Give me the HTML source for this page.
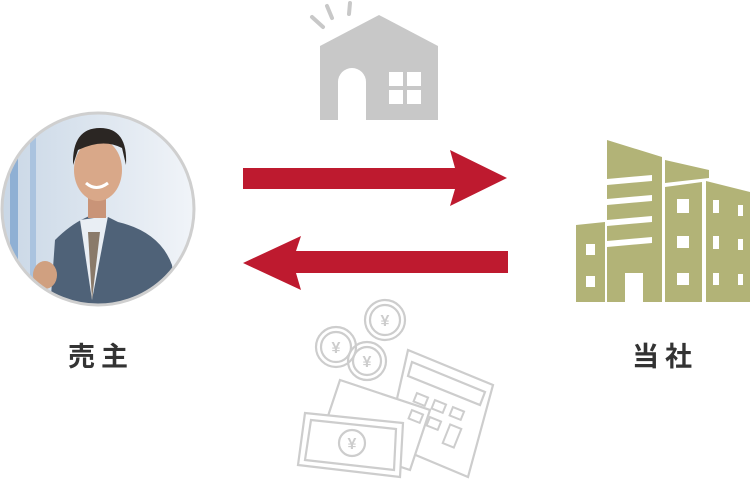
<!DOCTYPE html>
<html><head><meta charset="utf-8"><style>
body{margin:0;width:750px;height:481px;background:#fff;overflow:hidden;position:relative;font-family:"Liberation Sans","Noto Sans CJK JP",sans-serif}
.lbl{position:absolute;top:335px;font-size:27px;font-weight:bold;color:#333;letter-spacing:6px;width:130px;text-align:center;text-indent:6px}
</style></head><body>
<svg width="750" height="481" style="position:absolute;left:0;top:0">
<defs>
<clipPath id="c"><circle cx="98" cy="209" r="95"/></clipPath>
<linearGradient id="bg" x1="0" x2="1"><stop offset="0" stop-color="#c9d7e6"/><stop offset="1" stop-color="#f2f5f9"/></linearGradient>
</defs>
<g fill="#c8c8c8">
<polygon points="379,15 438,46 438,120 320,120 320,46"/>
<line x1="312" y1="17" x2="323" y2="27" stroke="#c8c8c8" stroke-width="4" stroke-linecap="round"/>
<line x1="327" y1="6" x2="332" y2="18" stroke="#c8c8c8" stroke-width="4" stroke-linecap="round"/>
<line x1="350" y1="3" x2="349" y2="14" stroke="#c8c8c8" stroke-width="4" stroke-linecap="round"/>
</g>
<path d="M338 120 V82 A14 14 0 0 1 366 82 V120Z" fill="#fff"/>
<g fill="#fff"><rect x="389" y="72" width="14" height="14"/><rect x="407" y="72" width="14" height="14"/><rect x="389" y="90" width="14" height="14"/><rect x="407" y="90" width="14" height="14"/></g>
<g fill="#be1a2f">
<polygon points="243,168 455,168 450,150 507,178 450,206 455,189 243,189"/>
<polygon points="508,251 296,251 301,236 243,263 301,290 296,273 508,273"/>
</g>
<g clip-path="url(#c)">
<rect x="0" y="110" width="200" height="200" fill="url(#bg)"/>
<rect x="10" y="110" width="8" height="200" fill="#8fb0d4"/>
<rect x="30" y="110" width="6" height="200" fill="#aac3df"/>
<path d="M50 310 L55 240 Q70 225 85 218 L98 212 L118 222 Q160 232 172 265 L178 310Z" fill="#4f6278"/>
<path d="M80 220 L92 300 L108 216Z" fill="#e9eef4"/>
<path d="M88 232 L92 300 L100 232Z" fill="#8a7a6a"/>
<rect x="88" y="190" width="18" height="28" fill="#c99478"/>
<ellipse cx="98" cy="170" rx="24" ry="31" fill="#d9a889"/>
<path d="M73 165 Q72 128 100 128 Q128 128 126 165 L122 148 Q103 138 78 150Z" fill="#2b2623"/>
<path d="M86 183 Q96 192 108 183" stroke="#fff" stroke-width="3" fill="none"/>
<ellipse cx="45" cy="275" rx="12" ry="14" fill="#d0a080"/>
</g>
<circle cx="98" cy="209" r="96" fill="none" stroke="#cfcfcf" stroke-width="3"/>
<g fill="#b2b377">
<polygon points="576,225 605,222 605,302 576,302"/>
<polygon points="607,140 662,157 662,302 607,302"/>
<polygon points="665,160 709,170 709,178 665,183"/>
<polygon points="665,187 702,182 702,302 665,302"/>
<polygon points="706,181 750,192 750,302 706,302"/>
</g>
<g fill="#fff">
<rect x="586" y="244" width="9" height="11"/><rect x="586" y="276" width="9" height="11"/>
<polygon points="607,179 652,175 652,181 607,185"/>
<polygon points="607,199 652,195 652,201 607,205"/>
<polygon points="607,220 652,216 652,222 607,226"/>
<polygon points="607,241 652,237 652,243 607,247"/>
<rect x="625" y="273" width="18" height="29"/>
<rect x="677" y="199" width="12" height="14"/><rect x="677" y="236" width="12" height="12"/><rect x="677" y="273" width="12" height="12"/>
<rect x="713" y="200" width="6" height="13"/><rect x="738" y="205" width="5" height="11"/>
<rect x="713" y="236" width="6" height="13"/><rect x="738" y="239" width="5" height="11"/>
<rect x="713" y="273" width="6" height="12"/><rect x="738" y="274" width="5" height="11"/>
</g>
<g fill="none" stroke="#cdcdcd" stroke-width="2.2">
<circle cx="385" cy="320" r="20"/><circle cx="385" cy="320" r="15"/>
<circle cx="336" cy="347" r="20"/><circle cx="336" cy="347" r="15"/>
<circle cx="367" cy="361" r="19"/><circle cx="367" cy="361" r="14"/>
<polygon points="408,350 493,385 468,477 387,443" fill="#fff"/>
<polygon points="412,362 485,392 480,405 408,376"/>
<polygon points="340,380 430,410 410,470 320,440" fill="#fff"/>
<polygon points="305,413 403,423 400,477 298,465" fill="#fff"/>
<polygon points="311,420 396,429 394,470 305,460"/>
<circle cx="352" cy="443" r="13"/>
</g>
<g fill="none" stroke="#cdcdcd" stroke-width="2">
<rect x="415" y="395" width="12" height="9" transform="rotate(22 421 399)"/>
<rect x="433" y="402" width="12" height="9" transform="rotate(22 439 406)"/>
<rect x="451" y="409" width="12" height="9" transform="rotate(22 457 413)"/>
<rect x="410" y="412" width="12" height="9" transform="rotate(22 416 416)"/>
<rect x="428" y="419" width="12" height="9" transform="rotate(22 434 423)"/>
<rect x="446" y="426" width="12" height="20" transform="rotate(22 452 436)"/>
</g>
<g font-size="16" fill="#cdcdcd" text-anchor="middle" font-weight="bold">
<text x="385" y="326">¥</text><text x="336" y="353">¥</text><text x="367" y="367">¥</text><text x="352" y="449">¥</text>
</g>
</svg>
<div class="lbl" style="left:33px">売主</div>
<div class="lbl" style="left:597px">当社</div>
</body></html>
